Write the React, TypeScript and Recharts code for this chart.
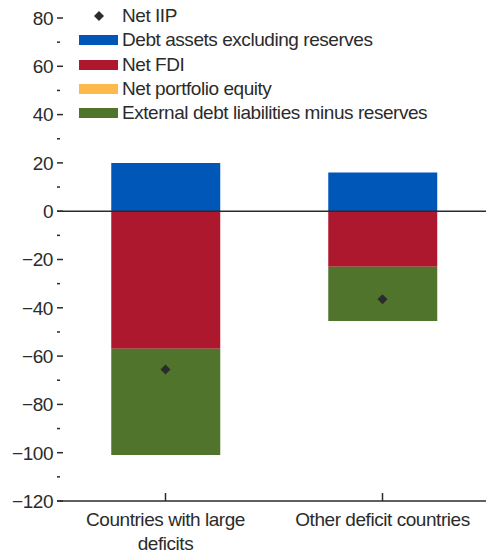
import {
  Bar,
  ComposedChart,
  Line,
  ReferenceLine,
  XAxis,
  YAxis,
} from "recharts";

const categories = ["Countries with large deficits", "Other deficit countries"];
const debtAssets = [20, 16];
const netFdi = [-57, -23];
const portfolioEquity = [0, 0];
const externalDebt = [-44, -22.5];
const netIip = [-65.5, -36.5];
const yTicks = [-120, -110, -100, -90, -80, -70, -60, -50, -40, -30, -20, -10, 0, 10, 20, 30, 40, 50, 60, 70, 80];

const FONT = "'Liberation Sans', Arial, sans-serif";
const INK = "#2b2b2b";
const SPACING = -0.45;

const colors = {
  debt: "#0057b8",
  fdi: "#ae182e",
  equity: "#fdb94b",
  ext: "#50742b",
};

const legendItems = [
  { name: "Net IIP", color: INK, diamond: true },
  { name: "Debt assets excluding reserves", color: colors.debt },
  { name: "Net FDI", color: colors.fdi },
  { name: "Net portfolio equity", color: colors.equity },
  { name: "External debt liabilities minus reserves", color: colors.ext },
];

const data = categories.map((name, i) => ({
  name,
  debt: debtAssets[i],
  fdi: netFdi[i],
  equity: portfolioEquity[i],
  ext: externalDebt[i],
  iip: netIip[i],
}));

const fmt = (v: number) => (v < 0 ? `\u2212${Math.abs(v)}` : `${v}`);

// simple word wrap by character count
function wrap(label: string, max = 23) {
  const lines: string[] = [];
  let cur = "";
  label.split(" ").forEach((w) => {
    const next = cur ? `${cur} ${w}` : w;
    if (next.length > max && cur) {
      lines.push(cur);
      cur = w;
    } else {
      cur = next;
    }
  });
  if (cur) lines.push(cur);
  return lines;
}

function LeftTick(props: any) {
  const { x, y, payload } = props;
  const major = payload.value % 20 === 0;
  return (
    <g>
      <line x1={x} x2={x + (major ? 6 : 3)} y1={y} y2={y} stroke={INK} strokeWidth={1.5} />
      {major && (
        <text
          x={x - 4}
          y={y}
          dy="0.36em"
          textAnchor="end"
          fontSize={19}
          fill={INK}
          fontFamily={FONT}
          letterSpacing={SPACING}
        >
          {fmt(payload.value)}
        </text>
      )}
    </g>
  );
}

function RightTick(props: any) {
  const { y, payload } = props;
  if (payload.value % 20 !== 0) return <g />;
  // right edge of the plot sits at 491
  return <line x1={485} x2={491} y1={y} y2={y} stroke={INK} strokeWidth={1.5} />;
}

function BottomTick(props: any) {
  const { x, y, payload } = props;
  const lines = wrap(payload.value);
  return (
    <g>
      <line x1={x} x2={x} y1={y - 8} y2={y} stroke={INK} strokeWidth={1.5} />
      <text
        textAnchor="middle"
        fontSize={19}
        fill={INK}
        fontFamily={FONT}
        letterSpacing={SPACING}
      >
        {lines.map((l, i) => (
          <tspan key={i} x={x} y={y + 25 + i * 24}>
            {l}
          </tspan>
        ))}
      </text>
    </g>
  );
}

function Diamond(props: any) {
  const { cx, cy } = props;
  if (cx == null || cy == null) return null;
  return (
    <polygon
      points={`${cx},${cy - 5} ${cx + 5},${cy} ${cx},${cy + 5} ${cx - 5},${cy}`}
      fill={INK}
    />
  );
}

function LegendBox() {
  return (
    <div
      style={{
        position: "absolute",
        left: 75,
        top: 4,
        fontFamily: FONT,
        fontSize: 19,
        color: INK,
        letterSpacing: SPACING,
      }}
    >
      {legendItems.map((it) => (
        <div key={it.name} style={{ display: "flex", alignItems: "center", height: 24.3 }}>
          <div style={{ width: 47, display: "flex", justifyContent: "center" }}>
            {it.diamond ? (
              <svg width={12} height={12}>
                <polygon points="6,1 11,6 6,11 1,6" fill={it.color} />
              </svg>
            ) : (
              <div style={{ width: 39, height: 10, background: it.color }} />
            )}
          </div>
          <span style={{ lineHeight: "24px", whiteSpace: "nowrap" }}>{it.name}</span>
        </div>
      ))}
    </div>
  );
}

export default function App() {
  return (
    <div
      style={{
        position: "absolute",
        left: 0,
        top: 0,
        width: 486,
        height: 556,
        overflow: "hidden",
        background: "#fff",
      }}
    >
      <ComposedChart
        width={495}
        height={556}
        data={data}
        stackOffset="sign"
        barCategoryGap="25%"
        margin={{ top: 18, right: 0, bottom: 0, left: 0 }}
      >
        <XAxis
          dataKey="name"
          height={55}
          tickSize={0}
          tickMargin={0}
          tick={<BottomTick />}
          axisLine={{ stroke: INK, strokeWidth: 1.5 }}
          tickLine={false}
          interval={0}
        />
        <YAxis
          yAxisId="left"
          width={57}
          domain={[-120, 80]}
          ticks={yTicks}
          interval={0}
          tickSize={0}
          tickMargin={0}
          tick={<LeftTick />}
          axisLine={false}
          tickLine={false}
        />
        <YAxis
          yAxisId="right"
          orientation="right"
          width={4}
          domain={[-120, 80]}
          ticks={yTicks}
          interval={0}
          tickSize={0}
          tickMargin={0}
          tick={<RightTick />}
          axisLine={false}
          tickLine={false}
        />
        <Bar yAxisId="left" dataKey="debt" stackId="a" fill={colors.debt} isAnimationActive={false} />
        <Bar yAxisId="left" dataKey="fdi" stackId="a" fill={colors.fdi} isAnimationActive={false} />
        <Bar yAxisId="left" dataKey="equity" stackId="a" fill={colors.equity} isAnimationActive={false} />
        <Bar yAxisId="left" dataKey="ext" stackId="a" fill={colors.ext} isAnimationActive={false} />
        <ReferenceLine yAxisId="left" y={0} stroke={INK} strokeWidth={1.5} />
        <Line
          yAxisId="left"
          dataKey="iip"
          stroke="none"
          dot={<Diamond />}
          activeDot={false}
          isAnimationActive={false}
        />
      </ComposedChart>
      <LegendBox />
    </div>
  );
}
